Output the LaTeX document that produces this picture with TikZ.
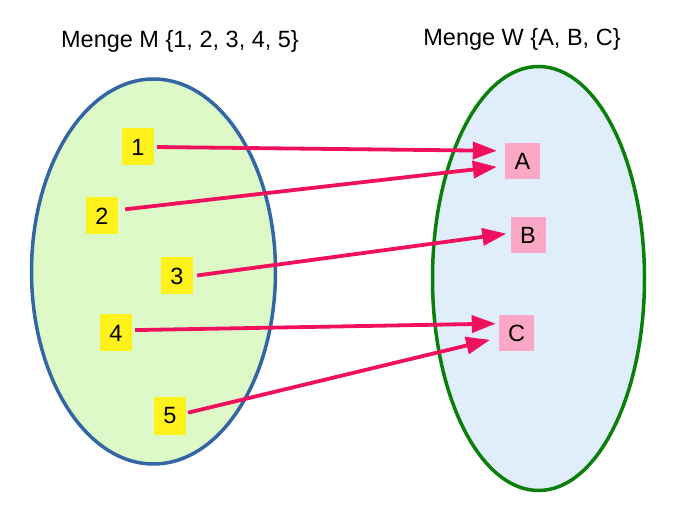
\documentclass[tikz,border=0pt]{standalone}
\usepackage{fontspec}
\setmainfont{Liberation Sans}
\usetikzlibrary{arrows.meta}
\definecolor{mengeblau}{HTML}{3465A4}
\definecolor{mengegruen}{HTML}{DDF9C8}
\definecolor{bildgruen}{HTML}{0A7F0A}
\definecolor{bildblau}{HTML}{E0EEFB}
\definecolor{elemgelb}{HTML}{FFF21A}
\definecolor{bildrosa}{HTML}{FBA7C5}
\definecolor{pfeilrot}{HTML}{F0105E}
\begin{document}
\begin{tikzpicture}[x=1pt, y=-1pt, font=\fontsize{23.5}{28}\selectfont, line join=round, >={Triangle[length=24pt,width=17pt]},
	elem/.style={fill=elemgelb, minimum width=32pt, minimum height=37pt, inner sep=0pt},
	bild/.style={fill=bildrosa, minimum width=35pt, minimum height=36pt, inner sep=0pt},
	pfeil/.style={->, draw=pfeilrot, line width=3.8pt}]
	\useasboundingbox (0,0) rectangle (689,505);
	\draw[draw=mengeblau, fill=mengegruen, line width=3.5pt] (153.5,271.5) ellipse [x radius=122, y radius=192.5];
	\draw[draw=bildgruen, fill=bildblau, line width=3.5pt] (538.5,278.5) ellipse [x radius=106, y radius=212];
	\node[anchor=base] (titelM) at (180,48) {Menge M \{1, 2, 3, 4, 5\}};
	\node[anchor=base] (titelW) at (522,46) {Menge W \{A, B, C\}};
	% Elemente von M
	\node[elem] (m1) at (138,147) {1};
	\node[elem] (m2) at (102,216) {2};
	\node[elem] (m3) at (177,276) {3};
	\node[elem] (m4) at (116,333) {4};
	\node[elem] (m5) at (170,416) {5};
	% Elemente von W
	\node[bild] (wa) at (522.5,161.5) {A};
	\node[bild] (wb) at (528,235) {B};
	\node[bild] (wc) at (516.5,333) {C};
	% Zuordnung
	\draw[pfeil, shorten <=3pt, shorten >=8pt] (m1.east) -- (wa.149);
	\draw[pfeil, shorten <=7pt, shorten >=8pt] (m2.20) -- (wa.194);
	\draw[pfeil, shorten <=4pt, shorten >=4pt] (m3.east) -- (wb.174);
	\draw[pfeil, shorten <=3pt, shorten >=3pt] (m4.10) -- (wc.152);
	\draw[pfeil, shorten <=2pt, shorten >=9pt] (m5.10) -- (wc.195);
\end{tikzpicture}
\end{document}
